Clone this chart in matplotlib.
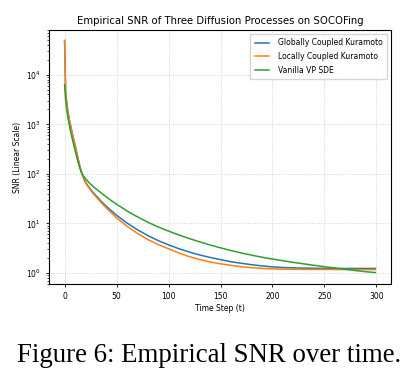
import matplotlib
matplotlib.use("Agg")
import matplotlib.pyplot as plt

t_steps = [0, 1, 2, 3, 4, 5, 6, 7, 8, 9, 10, 11, 12, 13, 14, 15, 16, 17, 18, 19, 20,
           22, 24, 26, 28, 30, 35, 40, 45, 50,
           60, 70, 80, 90, 100, 110, 120, 130, 140, 150, 160, 170, 180, 190, 200,
           210, 220, 230, 240, 250, 260, 270, 280, 290, 299]

snr_global = [49000, 4650, 2790, 1910, 1440, 1130, 905, 730, 587, 474, 386, 314, 252, 203, 165,
              135, 113, 98, 85.5, 76.5, 69,
              59.5, 52, 46, 41, 36.8, 28.3, 22.3, 18, 14.6,
              10.2, 7.48, 5.70, 4.50, 3.70, 3.09, 2.64, 2.31, 2.06, 1.86, 1.69, 1.57,
              1.47, 1.39, 1.33, 1.29, 1.27, 1.255, 1.245, 1.24, 1.235, 1.235, 1.235,
              1.235, 1.235]

snr_local = [49000, 4500, 2700, 1850, 1400, 1100, 880, 710, 570, 460, 375, 305, 245, 197, 160,
             131, 110, 95, 83, 74, 67,
             57.5, 50, 44, 39, 34.8, 26.5, 20.6, 16.3, 13.0,
             8.79, 6.3, 4.75, 3.76, 3.08, 2.53, 2.14, 1.87, 1.67, 1.53, 1.43, 1.34,
             1.28, 1.24, 1.21, 1.195, 1.19, 1.185, 1.18, 1.18, 1.175, 1.175, 1.17,
             1.17, 1.17]

snr_vanilla = [6300, 3000, 2000, 1450, 1100, 850, 680, 550, 450, 370, 305, 250, 205, 170, 143,
               124, 110, 100, 92, 86, 80.5,
               72, 65, 59.5, 54.5, 50.5, 41.5, 34.5, 28.8, 24.5,
               17.9, 13.6, 10.6, 8.5, 7.0, 5.85, 4.95, 4.25, 3.68, 3.22, 2.84, 2.54,
               2.29, 2.08, 1.91, 1.77, 1.64, 1.53, 1.43, 1.34, 1.26, 1.19, 1.12,
               1.06, 1.02]

series_labels = ["Globally Coupled Kuramoto", "Locally Coupled Kuramoto", "Vanilla VP SDE"]

fig = plt.figure(figsize=(4.18, 3.85), dpi=100)
ax = fig.add_axes([49/418, 1-284/385, (391-49)/418, (284-30)/385])

ax.plot(t_steps, snr_global, color="#1f77b4", lw=1.1, label=series_labels[0])
ax.plot(t_steps, snr_local, color="#ff7f0e", lw=1.1, label=series_labels[1])
ax.plot(t_steps, snr_vanilla, color="#2ca02c", lw=1.1, label=series_labels[2])

ax.set_yscale("log")
ax.set_ylim(0.6, 8e4)
ax.set_xlim(-15, 314)
ax.grid(True, which="major", linestyle=":", color="#c8c8c8", linewidth=0.6)
ax.tick_params(labelsize=5.5, length=2.5, width=0.6)
ax.tick_params(which="minor", length=1.5, width=0.5)
for s in ax.spines.values():
    s.set_linewidth(0.8)
ax.set_title("Empirical SNR of Three Diffusion Processes on SOCOFing", fontsize=7.3, pad=4)
ax.set_xlabel("Time Step (t)", fontsize=5.5, labelpad=2)
ax.set_ylabel("SNR (Linear Scale)", fontsize=5.5, labelpad=3)
ax.legend(loc="upper right", fontsize=5.5, frameon=True, fancybox=False,
          edgecolor="#cccccc", handlelength=1.8, handletextpad=1.2,
          borderpad=0.6, labelspacing=0.6)

fig.text(0.5, 1-355/385, "Figure 6: Empirical SNR over time.", ha="center", va="center",
         fontsize=19.4, family="Liberation Serif")

fig.savefig("out.png", dpi=100)
